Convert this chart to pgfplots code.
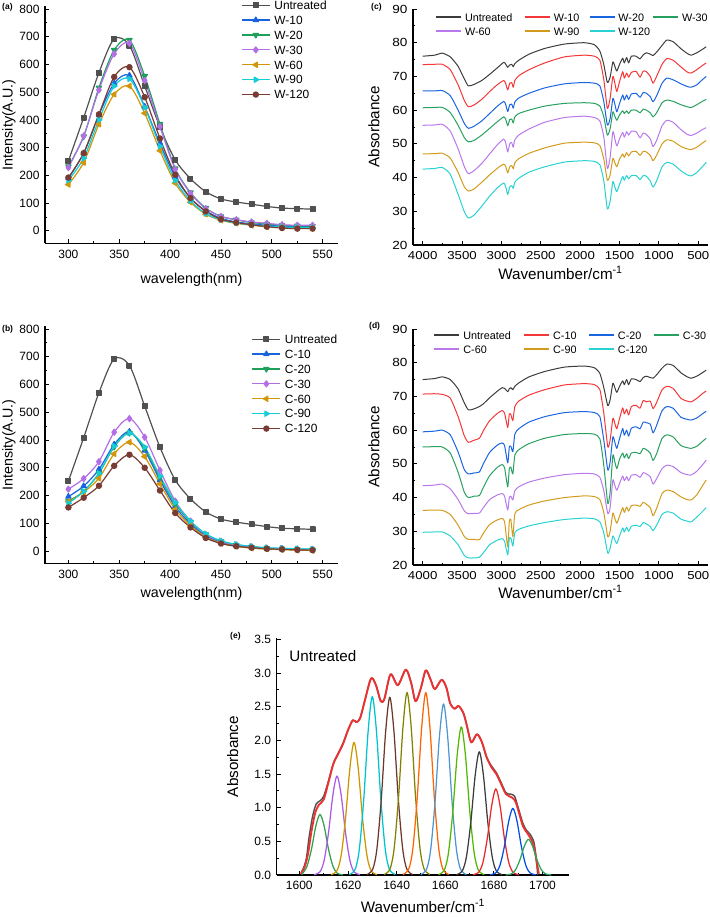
\documentclass[border=0pt]{standalone}
\usepackage{fontspec}
\setmainfont{Liberation Sans}
\newfontfamily\widefont{Liberation Sans}[FakeStretch=1.15]
\usepackage{pgfplots}
\usepackage{pgfplotstable}
\pgfplotsset{compat=1.18}

% colours, panels a/b
\definecolor{untr}{RGB}{80,80,80}
\definecolor{wblue}{RGB}{25,100,220}
\definecolor{wgreen}{RGB}{30,160,90}
\definecolor{wpurple}{RGB}{180,110,230}
\definecolor{wgold}{RGB}{210,150,10}
\definecolor{wcyan}{RGB}{20,205,215}
\definecolor{wbrown}{RGB}{120,60,50}
% panels c/d
\definecolor{fblack}{RGB}{60,60,60}
\definecolor{fred}{RGB}{245,55,55}
\definecolor{fblue}{RGB}{25,100,225}
\definecolor{fgreen}{RGB}{40,160,95}
\definecolor{fpurple}{RGB}{185,120,235}
\definecolor{fgold}{RGB}{210,155,30}
\definecolor{fcyan}{RGB}{40,210,210}
% panel e
\definecolor{e1}{RGB}{50,160,80}
\definecolor{e2}{RGB}{170,90,230}
\definecolor{e3}{RGB}{205,150,0}
\definecolor{e4}{RGB}{0,195,205}
\definecolor{e5}{RGB}{110,55,45}
\definecolor{e6}{RGB}{130,130,0}
\definecolor{e7}{RGB}{255,100,0}
\definecolor{e8}{RGB}{80,150,210}
\definecolor{e9}{RGB}{80,185,0}
\definecolor{e10}{RGB}{60,60,60}
\definecolor{e11}{RGB}{235,40,40}
\definecolor{e12}{RGB}{0,80,230}
\definecolor{e13}{RGB}{40,165,90}
\definecolor{envred}{RGB}{235,50,50}

\pgfplotsset{
  origin/.style={
    scale only axis,
    axis lines=left,
    axis line style={-, line width=1.1pt},
    tick align=inside,
    major tick length=4pt,
    minor tick length=2.2pt,
    every tick/.append style={line width=0.9pt, black},
    scaled ticks=false,
    /pgf/number format/assume math mode=true,
    /pgf/number format/1000 sep={},
    tick label style={font=\fontsize{12}{14}\selectfont},
    x tick label style={yshift=-3pt},
    y tick label style={xshift=-2pt},
    every axis plot/.append style={line join=round},
  },
  xlab/.style={xlabel style={at={([yshift=-#1]axis description cs:0.5,0)}, anchor=center}},
  ylab/.style={ylabel style={at={([xshift=-#1]axis description cs:0,0.5)}, anchor=center, rotate=0}},
  fluo/.style={
    origin,
    width=293pt, xmin=277, xmax=565, ymin=-45, ymax=810,
    xtick={300,350,...,550}, ytick={0,100,...,800},
    minor x tick num=1, minor y tick num=1,
    xlabel={wavelength(nm)}, ylabel={Intensity(A.U.)},
    label style={font=\fontsize{14.3}{16}\selectfont},
    ylab=36pt,
    every axis plot/.append style={smooth, line width=1.2pt},
    legend cell align=left,
    legend image code/.code={\draw[mark repeat=2,mark phase=2,#1] plot coordinates {(0pt,0pt) (14pt,0pt) (28pt,0pt)};},
    legend style={anchor=north west, draw=none, fill=none, inner sep=0pt,
      font=\fontsize{11.9}{13}\selectfont, row sep=6.4pt,
      nodes={inner sep=0pt, text height=8.5pt, text depth=0pt},
      /tikz/every odd column/.style={column sep=4pt}},
  },
  ftir/.style={
    origin,
    width=295pt, height=236pt, xmin=377, xmax=4123, x dir=reverse,
    ymin=20, ymax=90,
    xtick={500,1000,...,4000}, ytick={20,30,...,90},
    minor x tick num=1, minor y tick num=1,
    x tick label style={font=\widefont\fontsize{11.5}{13}\selectfont},
    y tick label style={font=\widefont\fontsize{11.8}{13}\selectfont},
    xlabel={Wavenumber/cm\textsuperscript{-1}}, ylabel={Absorbance},
    label style={font=\fontsize{15.2}{17}\selectfont},
    ylab=39pt,
    every axis plot/.append style={smooth, tension=0.35, line width=1pt},
    legend columns=4,
    legend cell align=left,
    legend image code/.code={\draw[#1, line width=1.8pt] (0pt,0pt) -- (25pt,0pt);},
    legend style={anchor=north west, draw=none, fill=none, inner sep=0pt,
      font=\fontsize{10.8}{12}\selectfont, row sep=6.3pt,
      nodes={inner sep=0pt, text height=7.7pt, text depth=0pt},
      /tikz/every odd column/.style={column sep=3pt}},
  },
}

% FTIR spectra, panel (c)
\pgfplotstableread{
wn u w10 w20 w30 w60 w90 w120
4000 76.0 73.5 65.7 60.7 55.5 47.0 42.5
3850 76.3 73.6 65.7 60.8 55.6 47.1 42.7
3750 76.9 73.6 65.8 60.8 55.8 47.2 43.0
3650 75.8 72.0 64.3 59.3 53.8 45.8 41.0
3550 73.0 67.5 60.0 55.5 48.5 41.5 35.0
3470 69.2 62.8 56.0 51.8 43.2 37.2 29.8
3420 67.2 61.0 54.6 50.6 41.2 36.0 28.0
3350 67.6 61.5 55.2 51.0 42.0 36.6 28.8
3250 68.8 63.2 56.8 52.6 44.2 38.6 31.5
3150 70.6 65.5 59.0 54.6 47.0 40.8 34.5
3050 72.6 67.6 61.2 56.6 49.8 42.8 37.0
2970 74.2 68.8 62.6 58.0 51.4 44.0 38.4
2945 73.6 67.8 61.6 57.2 50.2 43.2 37.2
2920 72.7 66.0 59.6 55.4 47.6 41.4 35.0
2895 73.4 68.0 61.6 57.2 50.0 43.2 37.2
2870 73.6 68.2 61.8 57.4 50.4 43.6 37.6
2850 72.9 66.8 60.6 56.2 49.0 42.6 36.8
2830 73.8 68.8 62.4 58.0 51.2 44.4 38.6
2780 74.8 70.2 63.6 59.0 52.6 45.6 39.8
2650 76.6 72.0 65.0 60.0 54.4 47.2 41.6
2450 78.3 74.0 66.6 61.2 56.4 48.8 43.2
2200 79.6 75.8 67.8 62.0 57.8 50.2 44.6
1950 80.0 76.3 68.2 62.2 58.2 50.5 45.0
1820 79.4 76.0 68.0 62.0 57.8 50.3 44.8
1750 77.5 74.8 67.2 61.2 56.8 49.5 43.8
1700 73.5 69.0 62.5 58.0 52.0 45.5 39.0
1655 68.2 60.5 55.6 52.6 42.7 39.2 30.7
1620 69.8 63.5 57.5 54.5 46.0 40.8 33.0
1585 74.3 70.0 63.5 59.5 53.6 45.7 38.8
1560 73.0 68.0 61.8 58.2 51.5 44.4 37.2
1535 71.6 65.5 59.5 57.0 49.4 43.2 35.8
1500 73.6 68.5 62.0 58.6 51.5 45.5 38.0
1460 75.4 71.4 64.5 59.8 53.4 47.0 40.3
1440 74.0 69.5 63.0 59.0 52.0 46.0 39.2
1410 75.6 71.0 64.5 59.8 53.6 47.4 40.6
1385 74.0 69.8 63.2 59.0 52.6 46.4 39.6
1350 76.0 71.2 64.8 60.0 53.8 47.6 40.6
1290 76.0 71.5 65.0 60.0 53.6 47.8 40.6
1240 75.2 69.8 63.8 59.2 51.8 46.6 39.4
1200 76.4 71.6 65.2 60.3 53.2 47.8 40.6
1160 77.0 71.4 65.0 60.0 52.8 47.6 40.4
1110 76.6 70.0 64.0 59.2 51.5 46.6 39.0
1075 76.2 68.0 62.5 58.0 49.2 45.0 37.2
1030 77.2 70.0 64.2 59.2 51.0 46.6 39.0
960 79.2 73.6 68.0 62.2 55.4 50.0 43.2
900 80.8 75.3 69.5 63.0 57.0 51.2 44.5
820 80.3 74.8 69.0 62.6 56.4 50.8 44.0
720 78.2 72.8 67.8 61.6 54.2 49.2 42.0
640 76.8 71.3 67.0 61.0 52.8 48.5 40.8
590 76.3 71.0 66.8 60.8 52.5 48.3 40.5
520 77.0 72.0 67.5 61.6 53.2 49.0 41.5
450 78.0 73.2 69.0 62.6 54.2 50.2 43.2
400 78.8 74.0 70.0 63.2 54.8 51.0 44.5
}\tabc

% FTIR spectra, panel (d)
\pgfplotstableread{
wn u c10 c20 c30 c60 c90 c120
4000 75.0 70.7 59.5 55.0 43.5 36.2 29.7
3850 75.3 70.8 59.7 55.1 43.7 36.3 29.8
3750 75.8 70.6 60.0 55.0 44.0 36.2 29.8
3650 75.0 69.5 58.6 53.2 42.6 35.0 28.6
3550 72.2 64.0 53.5 47.5 39.4 31.8 26.0
3470 68.0 58.2 48.2 41.5 36.0 28.4 22.8
3420 66.0 56.4 47.0 40.0 35.2 27.6 22.1
3350 66.3 57.0 47.3 40.4 35.3 27.6 22.1
3280 67.0 57.6 47.6 40.6 35.4 27.5 22.3
3230 67.8 59.8 50.0 43.0 37.0 29.4 23.6
3150 69.6 62.8 53.4 46.5 39.4 32.0 26.0
3050 71.6 65.0 55.6 49.0 40.8 33.4 27.4
2990 72.6 65.8 56.2 49.8 41.2 33.8 27.8
2960 72.4 65.0 55.4 48.8 40.4 32.8 27.0
2920 71.4 60.8 50.3 43.2 36.3 25.4 23.0
2900 72.3 64.8 55.0 48.6 40.0 33.0 27.8
2880 72.6 64.6 55.2 49.0 40.4 33.4 28.0
2855 72.0 62.8 53.6 47.0 39.3 28.4 25.6
2830 73.0 67.0 58.8 52.6 42.0 35.2 29.6
2780 74.0 68.6 60.4 54.2 43.2 36.4 30.6
2650 75.8 70.4 62.4 56.0 44.6 37.8 31.6
2450 77.4 72.0 64.0 57.6 45.8 39.0 32.6
2200 78.7 73.4 65.2 58.7 46.8 40.0 33.5
1950 79.0 73.8 65.5 59.0 47.2 40.5 33.9
1820 78.5 73.5 65.2 58.8 47.0 40.3 33.7
1750 76.8 72.0 64.0 57.4 46.0 39.4 32.8
1700 72.6 65.0 57.0 49.5 42.0 35.5 29.5
1650 67.3 55.1 48.2 38.3 35.3 28.4 23.5
1620 69.0 57.0 50.5 41.5 37.0 30.0 25.0
1585 73.9 63.5 58.0 52.6 45.2 35.4 28.6
1560 72.6 62.0 56.4 50.6 43.6 33.8 27.4
1535 71.2 60.4 54.6 48.6 42.2 32.4 26.4
1500 73.0 63.5 57.5 51.4 44.2 34.5 28.6
1460 74.6 66.6 60.5 53.2 46.4 37.0 31.0
1440 73.5 64.8 58.5 51.8 45.0 35.6 29.8
1410 75.0 66.2 60.0 53.0 46.2 37.2 31.2
1385 73.5 64.5 58.2 51.6 45.0 36.0 30.0
1350 75.2 67.0 60.6 53.2 46.6 37.6 31.5
1290 75.0 67.4 61.0 53.4 46.8 37.8 31.8
1240 74.4 66.5 60.4 53.0 46.0 37.4 31.4
1200 75.6 68.8 62.4 54.6 47.4 38.6 32.6
1160 76.0 68.4 62.2 54.2 47.0 38.0 32.2
1110 75.6 68.6 61.8 53.2 46.2 37.0 31.4
1075 75.4 66.4 59.2 51.0 44.0 34.6 30.2
1030 76.4 68.2 61.4 53.0 45.6 36.8 31.8
960 78.4 72.0 65.8 57.6 48.6 41.2 35.0
900 79.6 73.0 67.0 58.6 49.6 42.2 35.8
820 79.2 72.4 66.5 58.0 49.2 41.8 35.4
720 77.0 69.4 63.8 55.4 47.4 40.2 33.6
640 75.8 68.6 63.2 54.8 46.8 39.4 33.0
590 75.4 68.4 63.0 54.6 46.7 39.3 32.8
520 76.0 69.4 63.6 55.2 47.8 40.8 34.2
450 77.0 70.8 64.8 56.6 49.6 43.4 35.8
400 77.8 71.6 65.6 57.6 51.1 45.2 37.0
}\tabd

\begin{document}
\begin{tikzpicture}
\path[use as bounding box] (0pt,0pt) rectangle (709pt,-917pt);

% ---------- (a) ----------
\begin{axis}[fluo, at={(45pt,-243.3pt)}, anchor=south west, height=237.1pt, xlab=37pt,
  legend style={at={(axis description cs:0.669,1.023)}}]
\addplot[untr, mark=square*, mark size=2.4pt] coordinates {(300,252)(315,408)(330,570)(345,692)(360,668)(375,522)(390,374)(405,256)(420,188)(435,141)(450,115)(465,104)(480,96)(495,88)(510,82)(525,80)(540,78)};
\addplot[wblue, mark=triangle*, mark size=3pt] coordinates {(300,190)(315,280)(330,418)(345,532)(360,560)(375,448)(390,315)(405,195)(420,118)(435,72)(450,45)(465,32)(480,25)(495,20)(510,17)(525,16)(540,15)};
\addplot[wgreen, mark=triangle*, mark size=3pt, mark options={rotate=180}] coordinates {(300,232)(315,340)(330,516)(345,652)(360,688)(375,558)(390,385)(405,225)(420,138)(435,82)(450,52)(465,40)(480,30)(495,25)(510,20)(525,18)(540,17)};
\addplot[wpurple, mark=diamond*, mark size=3pt] coordinates {(300,228)(315,342)(330,508)(345,638)(360,676)(375,542)(390,376)(405,222)(420,135)(435,80)(450,52)(465,40)(480,32)(495,27)(510,22)(525,20)(540,20)};
\addplot[wgold, mark=triangle*, mark size=3pt, mark options={rotate=90}] coordinates {(300,167)(315,246)(330,384)(345,492)(360,522)(375,424)(390,289)(405,172)(420,103)(435,60)(450,38)(465,27)(480,20)(495,15)(510,12)(525,10)(540,9)};
\addplot[wcyan, mark=triangle*, mark size=3pt, mark options={rotate=-90}] coordinates {(300,182)(315,262)(330,400)(345,522)(360,548)(375,445)(390,305)(405,182)(420,108)(435,62)(450,40)(465,28)(480,22)(495,17)(510,14)(525,12)(540,11)};
\addplot[wbrown, mark=*, mark size=2.6pt] coordinates {(300,192)(315,280)(330,420)(345,555)(360,590)(375,482)(390,333)(405,202)(420,118)(435,70)(450,42)(465,30)(480,22)(495,15)(510,10)(525,8)(540,8)};
\legend{Untreated,W-10,W-20,W-30,W-60,W-90,W-120}
\end{axis}

% ---------- (b) ----------
\begin{axis}[fluo, at={(45pt,-563.5pt)}, anchor=south west, height=237.3pt, xlab=30pt,
  legend style={at={(axis description cs:0.705,0.964)}}]
\addplot[untr, mark=square*, mark size=2.4pt] coordinates {(300,252)(315,408)(330,570)(345,692)(360,668)(375,522)(390,374)(405,256)(420,188)(435,141)(450,115)(465,104)(480,96)(495,88)(510,82)(525,80)(540,78)};
\addplot[wblue, mark=triangle*, mark size=3pt] coordinates {(300,196)(315,234)(330,294)(345,384)(360,430)(375,362)(390,255)(405,160)(420,98)(435,55)(450,32)(465,20)(480,14)(495,10)(510,8)(525,7)(540,6)};
\addplot[wgreen, mark=triangle*, mark size=3pt, mark options={rotate=180}] coordinates {(300,180)(315,215)(330,280)(345,375)(360,425)(375,370)(390,265)(405,170)(420,105)(435,60)(450,35)(465,22)(480,15)(495,10)(510,8)(525,6)(540,5)};
\addplot[wpurple, mark=diamond*, mark size=3pt] coordinates {(300,223)(315,261)(330,322)(345,428)(360,477)(375,410)(390,291)(405,180)(420,108)(435,60)(450,35)(465,22)(480,15)(495,10)(510,8)(525,6)(540,5)};
\addplot[wgold, mark=triangle*, mark size=3pt, mark options={rotate=90}] coordinates {(300,178)(315,212)(330,262)(345,350)(360,392)(375,340)(390,242)(405,150)(420,92)(435,50)(450,28)(465,17)(480,10)(495,7)(510,5)(525,3)(540,2)};
\addplot[wcyan, mark=triangle*, mark size=3pt, mark options={rotate=-90}] coordinates {(300,172)(315,215)(330,280)(345,378)(360,425)(375,375)(390,270)(405,175)(420,108)(435,62)(450,37)(465,24)(480,17)(495,12)(510,10)(525,8)(540,7)};
\addplot[wbrown, mark=*, mark size=2.6pt] coordinates {(300,157)(315,192)(330,235)(345,307)(360,347)(375,300)(390,218)(405,137)(420,85)(435,47)(450,27)(465,17)(480,12)(495,8)(510,6)(525,4)(540,3)};
\legend{Untreated,C-10,C-20,C-30,C-60,C-90,C-120}
\end{axis}

% ---------- (c) ----------
\begin{axis}[ftir, at={(413pt,-245pt)}, anchor=south west, xlab=28pt,
  legend style={at={(axis description cs:0.0746,0.982)},
    /tikz/column 2/.style={column sep=11.6pt},
    /tikz/column 4/.style={column sep=9.2pt},
    /tikz/column 6/.style={column sep=2.2pt}}]
\addplot[fblack] table[x=wn, y=u] {\tabc};
\addplot[fred] table[x=wn, y=w10] {\tabc};
\addplot[fblue] table[x=wn, y=w20] {\tabc};
\addplot[fgreen] table[x=wn, y=w30] {\tabc};
\addplot[fpurple] table[x=wn, y=w60] {\tabc};
\addplot[fgold] table[x=wn, y=w90] {\tabc};
\addplot[fcyan] table[x=wn, y=w120] {\tabc};
\legend{Untreated,W-10,W-20,W-30,W-60,W-90,W-120}
\end{axis}

% ---------- (d) ----------
\begin{axis}[ftir, at={(413pt,-565pt)}, anchor=south west, xlab=27pt,
  legend style={at={(axis description cs:0.069,0.991)},
    /tikz/column 2/.style={column sep=12.6pt},
    /tikz/column 4/.style={column sep=11.6pt},
    /tikz/column 6/.style={column sep=5.6pt}}]
\addplot[fblack] table[x=wn, y=u] {\tabd};
\addplot[fred] table[x=wn, y=c10] {\tabd};
\addplot[fblue] table[x=wn, y=c20] {\tabd};
\addplot[fgreen] table[x=wn, y=c30] {\tabd};
\addplot[fpurple] table[x=wn, y=c60] {\tabd};
\addplot[fgold] table[x=wn, y=c90] {\tabd};
\addplot[fcyan] table[x=wn, y=c120] {\tabd};
\legend{Untreated,C-10,C-20,C-30,C-60,C-90,C-120}
\end{axis}

% ---------- (e) ----------
\begin{axis}[origin, at={(276.7pt,-875pt)}, anchor=south west,
  width=292.6pt, height=237pt,
  xmin=1590.7, xmax=1711, ymin=0, ymax=3.52,
  xtick={1600,1620,...,1700}, ytick={0,0.5,...,3.5},
  minor x tick num=1, minor y tick num=1,
  y tick label style={/pgf/number format/.cd, fixed, fixed zerofill, precision=1, /tikz/.cd},
  xlabel={Wavenumber/cm\textsuperscript{-1}}, ylabel={Absorbance},
  label style={font=\fontsize{15.2}{17}\selectfont},
  xlab=31pt, ylab=44pt,
  every axis plot/.append style={smooth, line width=1.25pt}]
\addplot[untr, line width=1.4pt, tension=0.5] coordinates {(1601,0.05)(1602,0.13)(1603,0.27)(1604,0.56)(1605.5,0.88)(1607,1.06)(1608.5,1.1)(1610,1.17)(1612,1.4)(1614,1.66)(1616,1.81)(1618,1.96)(1620,2.15)(1622,2.3)(1623.5,2.27)(1625,2.33)(1627,2.6)(1629.5,2.92)(1631.5,2.82)(1633.5,2.58)(1635,2.62)(1637.5,2.98)(1640.5,2.82)(1643.8,3.05)(1646,2.85)(1647.8,2.58)(1650,2.78)(1652,3.04)(1654,2.9)(1655.7,2.76)(1658.5,2.9)(1660.5,2.78)(1662,2.55)(1663.8,2.47)(1665.5,2.51)(1667.5,2.4)(1669,2.2)(1670.7,1.97)(1673,2.09)(1675,1.98)(1677,1.75)(1679,1.62)(1681,1.52)(1683,1.37)(1685,1.22)(1687,1.2)(1688.5,1.17)(1690,1.0)(1692,0.76)(1693.5,0.66)(1695,0.6)(1696.5,0.48)(1697.5,0.2)(1698,0.0)};
\addplot[envred, line width=1.9pt, tension=0.5] coordinates {(1600.5,0.02)(1602,0.1)(1603.5,0.3)(1605,0.65)(1606.5,0.92)(1608,1.04)(1610,1.12)(1612,1.38)(1614,1.65)(1616,1.8)(1618,1.95)(1620,2.15)(1622,2.3)(1623.5,2.27)(1625,2.33)(1627,2.6)(1629.5,2.92)(1631.5,2.82)(1633.5,2.58)(1635,2.62)(1637.5,2.98)(1640.5,2.82)(1643.8,3.05)(1646,2.85)(1647.8,2.58)(1650,2.78)(1652,3.04)(1654,2.9)(1655.7,2.76)(1658.5,2.9)(1660.5,2.78)(1662,2.55)(1663.8,2.47)(1665.5,2.51)(1667.5,2.4)(1669,2.2)(1670.7,1.97)(1673,2.09)(1675,1.98)(1677,1.75)(1679,1.6)(1681,1.5)(1683,1.35)(1685,1.2)(1687.5,1.15)(1689,1.08)(1690.5,0.9)(1692,0.72)(1693.8,0.62)(1695,0.55)(1696.5,0.42)(1697.8,0.15)(1698.5,0.02)};
\addplot[e1] coordinates {(1601,0.002)(1601.5,0.030)(1603.2,0.133)(1605,0.384)(1606.8,0.727)(1608.5,0.90)(1610.2,0.727)(1612,0.384)(1613.8,0.133)(1615.5,0.030)(1617.9,0.002)};
\addplot[e2] coordinates {(1606.1,0.004)(1608.5,0.049)(1610.2,0.217)(1612,0.628)(1613.8,1.188)(1615.5,1.47)(1617.2,1.188)(1619,0.628)(1620.8,0.217)(1622.5,0.049)(1624.9,0.004)};
\addplot[e3] coordinates {(1613.1,0.005)(1615.5,0.066)(1617.2,0.291)(1619,0.841)(1620.8,1.592)(1622.5,1.97)(1624.2,1.592)(1626,0.841)(1627.8,0.291)(1629.5,0.066)(1631.9,0.005)};
\addplot[e4] coordinates {(1620.6,0.006)(1623,0.088)(1624.7,0.391)(1626.5,1.132)(1628.3,2.141)(1630,2.65)(1631.7,2.141)(1633.5,1.132)(1635.3,0.391)(1637,0.088)(1639.4,0.006)};
\addplot[e5] coordinates {(1627.8,0.006)(1630.2,0.088)(1631.9,0.389)(1633.7,1.127)(1635.5,2.133)(1637.2,2.64)(1638.9,2.133)(1640.7,1.127)(1642.5,0.389)(1644.2,0.088)(1646.6,0.006)};
\addplot[e6] coordinates {(1634.9,0.007)(1637.3,0.090)(1639,0.400)(1640.8,1.157)(1642.6,2.190)(1644.3,2.71)(1646,2.190)(1647.8,1.157)(1649.6,0.400)(1651.3,0.090)(1653.7,0.007)};
\addplot[e7] coordinates {(1642.6,0.007)(1645,0.090)(1646.7,0.400)(1648.5,1.157)(1650.3,2.190)(1652,2.71)(1653.7,2.190)(1655.5,1.157)(1657.3,0.400)(1659,0.090)(1661.4,0.007)};
\addplot[e8] coordinates {(1649.9,0.006)(1652.3,0.085)(1654,0.375)(1655.8,1.085)(1657.6,2.052)(1659.3,2.54)(1661,2.052)(1662.8,1.085)(1664.6,0.375)(1666.3,0.085)(1668.7,0.006)};
\addplot[e9] coordinates {(1657.2,0.005)(1659.6,0.073)(1661.3,0.325)(1663.1,0.939)(1664.9,1.778)(1666.6,2.20)(1668.3,1.778)(1670.1,0.939)(1671.9,0.325)(1673.6,0.073)(1676,0.005)};
\addplot[e10] coordinates {(1664.6,0.004)(1667,0.061)(1668.7,0.270)(1670.5,0.781)(1672.3,1.479)(1674,1.83)(1675.7,1.479)(1677.5,0.781)(1679.3,0.270)(1681,0.061)(1683.4,0.004)};
\addplot[e11] coordinates {(1671.4,0.003)(1673.8,0.043)(1675.5,0.189)(1677.3,0.547)(1679.1,1.034)(1680.8,1.28)(1682.5,1.034)(1684.3,0.547)(1686.1,0.189)(1687.8,0.043)(1690.2,0.003)};
\addplot[e12] coordinates {(1678.4,0.002)(1680.8,0.033)(1682.5,0.146)(1684.3,0.423)(1686.1,0.800)(1687.8,0.99)(1689.5,0.800)(1691.3,0.423)(1693.1,0.146)(1694.8,0.033)(1697.2,0.002)};
\addplot[e13] coordinates {(1684.8,0.001)(1687.2,0.018)(1688.9,0.078)(1690.7,0.226)(1692.5,0.428)(1694.2,0.53)(1695.9,0.428)(1697.7,0.226)(1699.5,0.078)(1701.2,0.018)(1703.6,0.001)};
\node[anchor=west, font=\fontsize{15.2}{17}\selectfont] at (axis cs:1594.5,3.25) {Untreated};
\end{axis}

% panel tags
\node[anchor=north west, inner sep=0pt, font=\bfseries\fontsize{8.5}{10}\selectfont] at (2pt,-3pt) {(a)};
\node[anchor=north west, inner sep=0pt, font=\bfseries\fontsize{8.5}{10}\selectfont] at (2pt,-325pt) {(b)};
\node[anchor=north west, inner sep=0pt, font=\bfseries\fontsize{8.5}{10}\selectfont] at (371pt,-3pt) {(c)};
\node[anchor=north west, inner sep=0pt, font=\bfseries\fontsize{8.5}{10}\selectfont] at (369pt,-322pt) {(d)};
\node[anchor=north west, inner sep=0pt, font=\bfseries\fontsize{8.5}{10}\selectfont] at (230pt,-632pt) {(e)};
\end{tikzpicture}
\end{document}
